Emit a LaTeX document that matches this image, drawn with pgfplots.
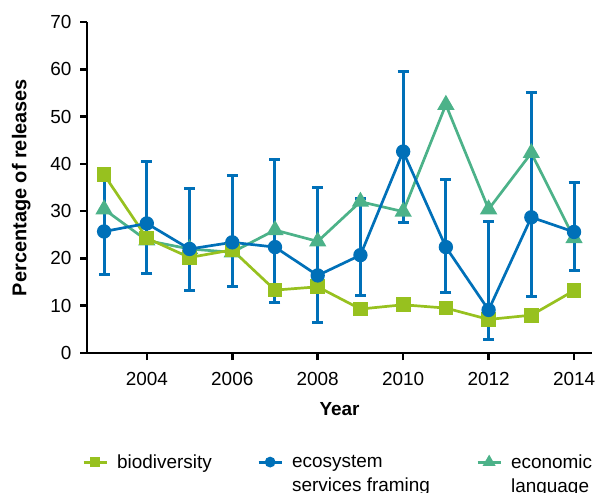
\documentclass[border=0pt]{standalone}
\usepackage{pgfplots}
\usepackage{pgfplotstable}
\pgfplotsset{compat=1.18}
\usepackage{fontspec}
\setmainfont{Liberation Sans}

\definecolor{bio}{RGB}{151,193,31}
\definecolor{eco}{RGB}{0,112,184}
\definecolor{econ}{RGB}{76,178,137}
\newcommand\tf{\fontsize{19}{24}\selectfont}

% Share of releases mentioning biodiversity
\pgfplotstableread{
year val
2003 37.7
2004 24.3
2005 20.2
2006 21.8
2007 13.3
2008 14.0
2009 9.3
2010 10.2
2011 9.5
2012 7.1
2013 8.0
2014 13.2
}\biodiv

% Ecosystem services framing, with upper and lower error
\pgfplotstableread{
year val ep em
2003 25.7 13.0 9.0
2004 27.4 13.0 10.5
2005 22.0 12.7 8.8
2006 23.4 14.1 9.4
2007 22.4 18.5 11.7
2008 16.4 18.5 9.9
2009 20.7 11.9 8.5
2010 42.6 16.9 15.1
2011 22.4 14.2 9.7
2012 9.1 18.8 6.3
2013 28.7 26.3 16.8
2014 25.6 10.5 8.2
}\ecosys

% Economic language
\pgfplotstableread{
year val
2003 30.4
2004 23.8
2005 22.0
2006 21.3
2007 26.0
2008 23.6
2009 32.0
2010 29.9
2011 52.5
2012 30.4
2013 42.3
2014 24.3
}\econ

\begin{document}
\begin{tikzpicture}
\begin{axis}[
  name=ax,
  scale only axis, width=505bp, height=331bp,
  xmin=2002.6, xmax=2014.42, ymin=0, ymax=70,
  axis lines=left,
  axis line style={-, line width=2.5bp, black},
  xtick={2004,2006,...,2014}, ytick={0,10,...,70},
  tick align=outside, major tick length=7bp,
  tick style={line width=2.5bp, black},
  minor tick num=0,
  /pgf/number format/assume math mode=true,
  x tick label style={/pgf/number format/1000 sep={}, yshift=-9bp},
  ticklabel style={font=\tf},
  yticklabel style={xshift=-5bp},
  xlabel={\bfseries Year}, ylabel={\bfseries Percentage of releases},
  every axis x label/.style={at={(axis description cs:0.5,-0.168)}, anchor=center, font=\tf},
  every axis y label/.style={at={(axis description cs:-0.1300,0.5)}, rotate=90, anchor=center, font=\fontsize{20}{24}\selectfont},
  legend columns=3,
  legend cell align=left,
  legend image code/.code={\draw[mark repeat=2, mark phase=2, #1] plot coordinates {(0bp,0bp) (11.5bp,0bp) (23bp,0bp)};},
  legend style={at={(axis description cs:-0.01,-0.306)}, anchor=north west,
    draw=none, fill=none, inner sep=0pt, column sep=0pt,
    nodes={inner sep=0pt, font=\tf},
    /tikz/every odd column/.append style={column sep=9bp}},
]
\addplot[econ, line width=2.7bp, mark=triangle*, mark size=7.3bp, mark options={solid}, forget plot]
  table[x=year, y=val] {\econ};
\addplot[bio, line width=2.7bp, mark=square*, mark size=6bp, mark options={solid}, forget plot]
  table[x=year, y=val] {\biodiv};
\addplot[eco, line width=2.7bp, mark=*, mark size=5.8bp, mark options={solid}, forget plot,
  error bars/.cd, y dir=both, y explicit,
  error bar style={line width=3bp, eco},
  error mark options={rotate=90, line width=3bp, mark size=5.5bp, eco}]
  table[x=year, y=val, y error plus=ep, y error minus=em] {\ecosys};

\addlegendimage{bio, line width=3bp, mark=square*, mark size=3.8bp}
\addlegendentry{\parbox[t]{140bp}{biodiversity}}
\addlegendimage{eco, line width=3bp, mark=*, mark size=3.8bp}
\addlegendentry{\parbox[t]{184bp}{ecosystem\\services framing}}
\addlegendimage{econ, line width=3bp, mark=triangle*, mark size=4.5bp}
\addlegendentry{\parbox[t]{90bp}{economic\\language}}
\end{axis}
\pgfresetboundingbox
\path[use as bounding box] (ax.south west) ++(-87bp,-140bp) rectangle ++(599bp,493bp);
\end{tikzpicture}
\end{document}
